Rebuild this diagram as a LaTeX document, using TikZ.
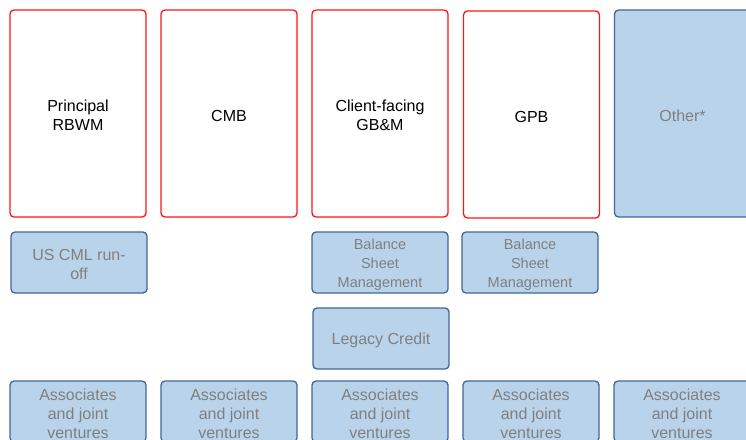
\documentclass[tikz,border=0pt]{standalone}
\usepackage{fontspec}
\setmainfont{Liberation Sans}
\usetikzlibrary{positioning}
\definecolor{segred}{RGB}{255,20,20}
\definecolor{segfill}{RGB}{185,211,235}
\definecolor{segedge}{RGB}{65,103,154}
\definecolor{seggray}{RGB}{128,128,128}
\newcommand{\toplift}{\rule{0pt}{15.5pt}}
\tikzset{
  segbox/.style={draw=segred, line width=1.3pt, rounded corners=4pt, align=center,
    minimum width=136pt, minimum height=207pt, inner sep=0pt},
  otherbox/.style={segbox, draw=segedge, fill=segfill, text=seggray},
  smallbox/.style={draw=segedge, fill=segfill, text=seggray, line width=1.3pt,
    rounded corners=4pt, align=center, minimum width=136pt, minimum height=61pt,
    inner sep=0pt}
}

\begin{document}
\begin{tikzpicture}[x=1pt, y=-1pt, font=\fontsize{16}{19}\selectfont]
\useasboundingbox (0,0) rectangle (746,439);
\clip (0,0) rectangle (746,439);
% segments
\node[segbox] (rbwm) at (78,113.5) {\toplift Principal\\RBWM};
\node[segbox] (cmb) at (229,113.5) {\toplift CMB};
\node[segbox] (gbm) at (380,113.5) {\toplift Client-facing\\GB\&M};
\node[segbox] (gpb) at (531.5,114.5) {\toplift GPB};
\node[otherbox] (other) at (682.5,113.5) {\toplift Other*};
% run-off and legacy
\node[smallbox] (uscml) at (79,262.5) {\toplift US CML run-\\off};
\node[smallbox, font=\fontsize{14.5}{19}\selectfont] (bsmgbm) at (380,262.5)
  {\toplift Balance\\Sheet\\Management};
\node[smallbox, font=\fontsize{14.5}{19}\selectfont] (bsmgpb) at (530,262.5)
  {\toplift Balance\\Sheet\\Management};
\node[smallbox] (legacy) at (381,338.5) {\toplift Legacy Credit};
% associates
\foreach \x/\n in {78/ajrbwm, 229/ajcmb, 380/ajgbm, 531/ajgpb, 682/ajother} {
  \node[smallbox] (\n) at (\x,411.5) {\toplift Associates\\and joint\\ventures};
}
\end{tikzpicture}
\end{document}
